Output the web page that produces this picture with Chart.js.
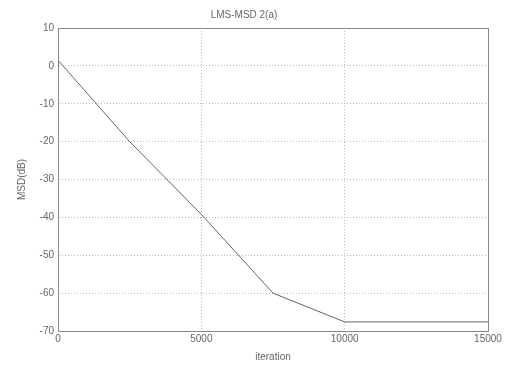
<!DOCTYPE html>
<html>
<head>
<meta charset="utf-8">
<script src="https://cdn.jsdelivr.net/npm/chart.js@4.4.0/dist/chart.umd.min.js"></script>
<style>
  html, body { margin: 0; padding: 0; background: #fff; }
  #wrap { width: 510px; height: 367px; }
</style>
</head>
<body>
<div id="wrap"><canvas id="c" width="510" height="367"></canvas></div>
<script>
// values
const iterations = [0, 2500, 5000, 7500, 10000, 15000];
const msd = [1.5, -20, -39.2, -60, -67.6, -67.6];
const xTicks = [0, 5000, 10000, 15000];
const yTicks = [10, 0, -10, -20, -30, -40, -50, -60, -70];

const ink = '#666';
const gridCol = '#bbb';

let points = []
for (let i = 0; i < iterations.length; i++) {
  points.push({x: iterations[i], y: msd[i]})
}

// box round the plot, like matlab's axes
const boxPlugin = {
  id: 'box',
  afterDraw(chart) {
    const a = chart.chartArea;
    const ctx = chart.ctx;
    ctx.save();
    ctx.strokeStyle = '#888';
    ctx.lineWidth = 1;
    ctx.strokeRect(Math.round(a.left) + 0.5, Math.round(a.top) + 0.5,
      Math.round(a.right - a.left), Math.round(a.bottom - a.top));
    ctx.restore();
  }
};

const data = {
  datasets: [{
    label: 'MSD',
    data: points,
    showLine: true,
    borderColor: '#666',
    borderWidth: 1,
    pointRadius: 0,
    tension: 0
  }]
};

const config = {
  type: 'scatter',
  data: data,
  options: {
    responsive: false,
    animation: false,
    layout: { padding: { left: 0, right: 22, top: 0, bottom: 0 } },
    plugins: {
      legend: { display: false },
      tooltip: { enabled: false },
      title: {
        display: true,
        text: 'LMS-MSD 2(a)',
        color: ink,
        font: { family: 'Liberation Sans', size: 10, weight: 'normal', lineHeight: 1.2 },
        padding: { top: 9, bottom: 7 }
      }
    },
    scales: {
      x: {
        type: 'linear',
        min: 0,
        max: 15000,
        afterBuildTicks(scale) { scale.ticks = xTicks.map(v => ({value: v})) },
        afterFit(scale) { scale.height = 36 },
        ticks: {
          color: ink,
          font: { family: 'Liberation Sans', size: 10 },
          padding: 2,
          maxRotation: 0,
          callback: v => String(v)
        },
        grid: { color: gridCol, drawTicks: false },
        border: { display: true, color: '#888', dash: [1, 2] },
        title: {
          display: true,
          text: 'iteration',
          color: ink,
          font: { family: 'Liberation Sans', size: 10 },
          padding: { top: 0, bottom: 4 }
        }
      },
      y: {
        type: 'linear',
        min: -70,
        max: 10,
        afterBuildTicks(scale) { scale.ticks = yTicks.map(v => ({value: v})) },
        afterFit(scale) { scale.width = 58 },
        ticks: {
          color: ink,
          font: { family: 'Liberation Sans', size: 10 },
          padding: 4,
          callback: v => String(v)
        },
        grid: { color: gridCol, drawTicks: false },
        border: { display: true, color: '#888', dash: [1, 2] },
        title: {
          display: true,
          text: 'MSD(dB)',
          color: ink,
          font: { family: 'Liberation Sans', size: 10 },
          padding: { top: 16, bottom: 0 }
        }
      }
    }
  },
  plugins: [boxPlugin]
};

let c = document.getElementById('c').getContext('2d');
new Chart(c, config);
</script>
</body>
</html>
